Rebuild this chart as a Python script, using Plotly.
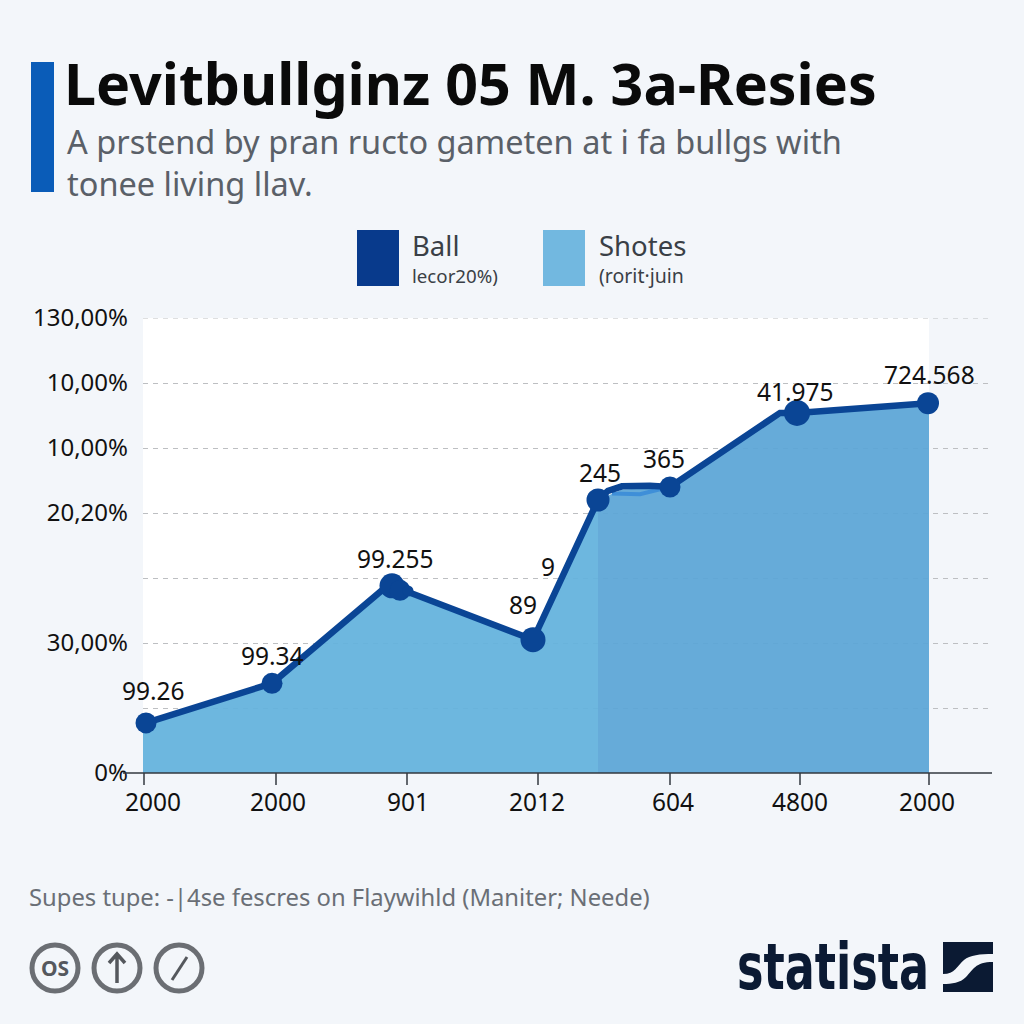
import plotly.graph_objects as go

# ---- data ----
point_pos = [146, 272, 392, 533, 598, 670, 797, 928]
point_val = [0.77, 1.38, 2.88, 2.05, 4.20, 4.40, 5.54, 5.69]
point_size = [21, 21, 25, 25, 23, 21, 26, 22]
point_labels = ["99.26", "99.34", "99.255", "89", "245", "365", "41.975", "724.568"]
label_dx = [7, 0, 3, -10, 2, -6, -2, 1]
label_dy = [-32, -28, -27, -35, -28, -29, -21, -29]

blob_pos = [400, 408]
blob_val = [2.81, 2.80]
blob_size = [21, 11]

line_pos = [146, 272, 385, 392, 533, 598, 608, 622, 650, 670, 780, 797, 928]
line_val = [0.77, 1.38, 2.85, 2.88, 2.05, 4.20, 4.34, 4.41, 4.42, 4.40, 5.54, 5.54, 5.69]

left_pos = [143, 146, 272, 385, 392, 533, 598]
left_val = [0.75, 0.77, 1.38, 2.85, 2.88, 2.05, 4.20]
right_pos = [598, 622, 670, 780, 797, 928, 929]
right_val = [4.20, 4.36, 4.40, 5.54, 5.54, 5.69, 5.69]

streak_pos = [612, 640, 664]
streak_val = [4.30, 4.29, 4.38]

x_tick_marks = [144, 276, 407, 538, 670, 800, 929]
x_label_pos = [153, 278, 408, 537, 673, 800, 927]
x_labels = ["2000", "2000", "901", "2012", "604", "4800", "2000"]
y_ticks = [0, 1, 2, 3, 4, 5, 6, 7]
y_labels = ["0%", "", "30,00%", "", "20,20%", "10,00%", "10,00%", "130,00%"]

title = "Levitbullginz 05 M. 3a-Resies"
subtitle = "A prstend by pran ructo gameten at i fa bullgs with<br>tonee living llav."
footer = "Supes tupe: -|4se fescres on Flaywihld (Maniter; Neede)"

DARK = "#0a4595"
FONT = "Noto Sans"
BG = "#f3f6fa"
W = H = 1024


def px(v):
    return v / W


def py(v):
    return 1 - v / H


fig = go.Figure()
fig.add_trace(go.Scatter(x=left_pos, y=left_val, mode="none", fill="tozeroy",
                         fillcolor="rgba(98,178,221,0.93)", showlegend=False, name="Shotes"))
fig.add_trace(go.Scatter(x=right_pos, y=right_val, mode="none", fill="tozeroy",
                         fillcolor="rgba(90,165,214,0.93)", showlegend=False, name="Shotes"))
fig.add_trace(go.Scatter(x=streak_pos, y=streak_val, mode="lines",
                         line=dict(color="#3f8fd8", width=4), showlegend=False))
fig.add_trace(go.Scatter(x=line_pos, y=line_val, mode="lines", cliponaxis=False,
                         line=dict(color=DARK, width=6.5), showlegend=False, name="Ball"))
fig.add_trace(go.Scatter(x=point_pos, y=point_val, mode="markers", cliponaxis=False,
                         marker=dict(color=DARK, size=point_size, opacity=1, line=dict(width=0)),
                         showlegend=False, name="Ball"))
fig.add_trace(go.Scatter(x=blob_pos, y=blob_val, mode="markers", cliponaxis=False,
                         marker=dict(color=DARK, size=blob_size, opacity=1, line=dict(width=0)),
                         showlegend=False, name="Ball"))

shapes = []


def rect(x0, y0, x1, y1, color, layer="below"):
    shapes.append(dict(type="rect", xref="paper", yref="paper", x0=px(x0), x1=px(x1),
                       y0=py(y1), y1=py(y0), fillcolor=color, line_width=0, layer=layer))


def pathstr(cmds):
    out = []
    for c in cmds:
        if isinstance(c, str):
            out.append(c)
        else:
            out.append(f"{px(c[0]):.5f},{py(c[1]):.5f}")
    return " ".join(out)


rect(143, 318, 929, 773, "#ffffff")
rect(31, 62, 54, 192, "#0a5cb8")
rect(357, 230, 399, 286, "#083a8c")
rect(543, 230, 585, 286, "#72b8e0")
# top gridline (plotly leaves out the one on the range edge)
shapes.append(dict(type="line", xref="x", yref="y", x0=143, x1=992, y0=7, y1=7, layer="between",
                   line=dict(color="#bdbfc2", width=1.2, dash="5px,5px")))
# baseline and tick marks
shapes.append(dict(type="line", xref="paper", yref="paper", x0=px(123), x1=px(992),
                   y0=py(773), y1=py(773), line=dict(color="#33383f", width=1.5), layer="above"))
for t in x_tick_marks:
    shapes.append(dict(type="line", xref="x", yref="paper", x0=t, x1=t, y0=py(773), y1=py(785),
                       line=dict(color="#33383f", width=1.5), layer="above"))
# icons
for cx in (55, 117, 179):
    shapes.append(dict(type="circle", xref="paper", yref="paper", x0=px(cx - 23), x1=px(cx + 23),
                       y0=py(968 + 23), y1=py(968 - 23), line=dict(color="#6b6e73", width=5)))
shapes.append(dict(type="path", xref="paper", yref="paper",
                   path=pathstr(["M", (117, 983), "L", (117, 955), "M", (109, 963), "L", (117, 954), "L", (125, 963)]),
                   line=dict(color="#55585d", width=3.5)))
shapes.append(dict(type="line", xref="paper", yref="paper", x0=px(172), x1=px(187),
                   y0=py(980), y1=py(957), line=dict(color="#55585d", width=3)))
# logo
rect(943, 942, 993, 992, "#0b1a33", layer="above")
shapes.append(dict(type="path", xref="paper", yref="paper", fillcolor=BG, line_width=0,
                   path=pathstr(["M", (993, 954), "L", (993, 962), "C", (975, 962), (973, 970), (966, 977),
                                 "C", (960, 983), (952, 984), (943, 984), "L", (943, 974),
                                 "C", (955, 974), (957, 966), (964, 960), "C", (970, 955), (980, 954), (993, 954), "Z"])))

annotations = []


def text(x, y, s, size, color="#111111", family=FONT, bold=False, anchor="left"):
    annotations.append(dict(xref="paper", yref="paper", x=px(x), y=py(y), text=f"<b>{s}</b>" if bold else s,
                            showarrow=False, xanchor=anchor, yanchor="middle",
                            font=dict(size=size, color=color, family=family), align="left",
                            borderpad=0, borderwidth=0))


text(64, 83, title, 57.3, "#0a0a0a", bold=True)
text(67, 162, subtitle, 32.5, "#5a6068")
text(412, 245, "Ball", 27.5, "#3a3f46")
text(412, 275, "lecor20%)", 18.7, "#3a3f46")
text(599, 245, "Shotes", 27.5, "#3a3f46")
text(599, 275, "(rorit·juin", 19.5, "#3a3f46")
text(29, 897, footer, 23.8, "#6a6f76")
text(737, 967, "statista", 64, "#0b1a33", family="DejaVu Sans Condensed", bold=True)
text(55, 968, "OS", 21, "#55585d", bold=True, anchor="center")

for xv, yv, s, dx, dy in zip(point_pos, point_val, point_labels, label_dx, label_dy):
    annotations.append(dict(x=xv, y=yv, text=s, showarrow=False, xshift=dx, yshift=-dy,
                            xanchor="center", yanchor="middle",
                            font=dict(size=24.5, color="#111111", family=FONT)))
annotations.append(dict(x=point_pos[3], y=point_val[3], text="9", showarrow=False, xshift=15, yshift=73,
                        xanchor="center", yanchor="middle",
                        font=dict(size=24.5, color="#111111", family=FONT)))

fig.update_layout(
    template="none",
    width=W, height=H, margin=dict(l=0, r=0, t=0, b=0),
    paper_bgcolor=BG, plot_bgcolor="rgba(0,0,0,0)",
    shapes=shapes, annotations=annotations, showlegend=False,
    font=dict(family=FONT, size=24, color="#111111"),
    xaxis=dict(domain=[px(143), px(992)], range=[143, 992], tickmode="array", automargin=False,
               tickvals=x_label_pos, ticktext=x_labels, ticks="", showgrid=False, zeroline=False,
               showline=False, tickfont=dict(size=24.5, color="#111111"), ticklabelstandoff=12),
    yaxis=dict(domain=[py(773), py(318)], range=[0, 7], tickmode="array", automargin=False,
               tickvals=y_ticks, ticktext=y_labels, showgrid=True, gridcolor="#bdbfc2", griddash="5px,5px",
               gridwidth=1.2, zeroline=False, showline=False, ticks="", ticklabelstandoff=14,
               tickfont=dict(size=24, color="#111111")),
)
post = f"""
document.body.style.margin='0';document.body.style.background='{BG}';
function fitLogo(){{
  document.querySelectorAll('text').forEach(function(t){{
    if(t.textContent==='statista'){{
      t.setAttribute('textLength','192');
      t.setAttribute('lengthAdjust','spacingAndGlyphs');
      t.querySelectorAll('tspan').forEach(function(s){{
        s.setAttribute('textLength','192');s.setAttribute('lengthAdjust','spacingAndGlyphs');
      }});
    }}
  }});
}}
fitLogo();setTimeout(fitLogo,100);setTimeout(fitLogo,500);
"""
fig.write_html("out.html", post_script=post, config=dict(displayModeBar=False))
